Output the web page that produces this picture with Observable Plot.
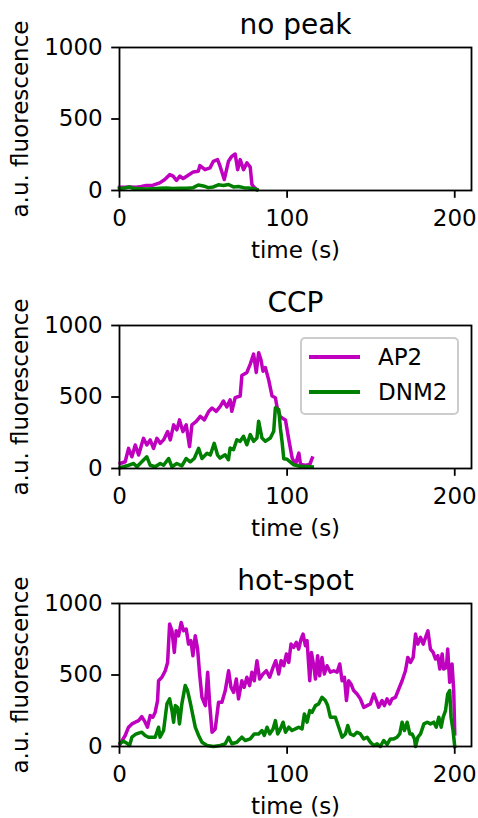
<!DOCTYPE html>
<html>
<head>
<meta charset="utf-8">
<script src="https://cdn.jsdelivr.net/npm/d3@7"></script>
<script src="https://cdn.jsdelivr.net/npm/@observablehq/plot@0.6"></script>
<style>
  html, body { margin: 0; padding: 0; background: white; }
  #wrap { position: relative; width: 478px; height: 818px; font-family: "DejaVu Sans", sans-serif; }
  #wrap svg { display: block; }
  .legend { position: absolute; left: 300px; top: 337px; width: 155px; height: 74px;
    border: 2px solid #cccccc; border-radius: 5px; background: rgba(255,255,255,0.8); }
  .legend .row { position: absolute; left: 0; height: 30px; display: flex; align-items: center; }
  .legend .sw { width: 51px; height: 3.4px; margin-left: 7px; }
  .legend .lab { margin-left: 18px; font-size: 23px; color: black; }
</style>
</head>
<body>
<div id="wrap"></div>
<script>
// ---- data (time in s, a.u. fluorescence) ----
const panelTitles = ["no peak", "CCP", "hot-spot"];
const seriesNames = ["AP2", "DNM2"];
const seriesColors = ["#bf00bf", "#008000"];
const xTicks = [0, 100, 200];
const yTicks = [0, 500, 1000];

const noPeakAP2T = [0, 3, 6, 10, 13, 16, 20, 24, 27, 30, 32, 34, 36, 38, 41, 44, 47, 48, 51, 54, 56, 58.5, 60, 62.5, 65, 67, 69, 70.5, 72, 74, 76, 78, 79, 80.5, 82];
const noPeakAP2V = [23, 22, 25, 23, 28, 35, 37, 53, 77, 111, 100, 70, 100, 84, 107, 130, 135, 174, 146, 158, 204, 216, 170, 77, 204, 239, 255, 146, 216, 146, 193, 163, 42, 20, 7];
const noPeakDNM2T = [0, 3, 6, 8, 12, 16, 20, 24, 28, 32, 36, 40, 44, 47, 50, 53, 56, 59, 62, 65, 68, 71, 74, 77, 80, 82];
const noPeakDNM2V = [15, 18, 25, 15, 12, 10, 12, 15, 18, 14, 16, 15, 20, 38, 32, 20, 25, 40, 35, 42, 25, 28, 20, 18, 12, 5];

const ccpAP2T = [0.4, 3.4, 5.4, 7.4, 9.4, 11.4, 14.3, 16.3, 18.3, 20.3, 22.3, 24.3, 26.3, 28.7, 30.3, 32.3, 34.2, 35.8, 37.8, 39.8, 41.8, 43.2, 45.8, 48.2, 50.6, 53.2, 55.2, 57.7, 60.1, 62, 64, 66, 67, 69, 72, 73, 76, 78, 80, 81.6, 83, 84.4, 85.6, 87, 89, 91, 93, 94, 96, 97, 99, 101, 103, 105, 107, 108, 111, 113.5, 115];
const ccpAP2V = [35, 47, 141, 82, 164, 94, 211, 164, 200, 141, 211, 176, 200, 258, 200, 305, 270, 340, 258, 305, 153, 305, 329, 364, 340, 399, 423, 399, 434, 472, 430, 481, 400, 495, 507, 650, 672, 730, 800, 672, 810, 760, 680, 706, 620, 507, 495, 430, 360, 354, 340, 202, 73, 28, 108, 28, 23, 28, 73];
const ccpDNM2T = [0.4, 4.4, 8.4, 10.4, 13.3, 16.3, 18.3, 21.3, 24.3, 26.3, 29.3, 31.3, 34.2, 37.2, 39.8, 42.2, 44.6, 47.2, 49.2, 52.2, 54.2, 56.5, 58.5, 60, 63, 65, 66, 68, 70, 72, 74, 76, 78, 80, 82, 83, 85, 87, 90, 92, 93, 95, 96, 97, 98, 100, 104, 108, 112, 115];
const ccpDNM2V = [5, 19, 35, 12, 47, 82, 23, 12, 35, 23, 70, 12, 35, 19, 70, 47, 70, 141, 70, 106, 94, 176, 94, 73, 96, 61, 143, 131, 201, 190, 225, 166, 237, 190, 213, 331, 213, 190, 213, 260, 425, 413, 280, 185, 68, 64, 26, 14, 14, 12];

const hotAP2T = [0.4, 3.4, 5.4, 7.4, 9.4, 11.4, 13.3, 15.3, 16.7, 18.3, 19.9, 21.3, 22.7, 23.3, 25.3, 27.3, 28.7, 29.9, 31.3, 32.7, 33.8, 35.2, 36.8, 38.2, 39.8, 41.2, 42.6, 43.8, 45.2, 46.6, 47.8, 49.2, 51.2, 52.6, 53.8, 55.2, 57.1, 59.1, 61.1, 63.1, 65.1, 66.5, 68.1, 69.7, 71, 73, 74.4, 76, 77.6, 79, 80.4, 82, 83.6, 85.6, 87.6, 89.6, 91.6, 93.2, 95, 96.4, 98, 99.6, 101, 102.3, 103.9, 105.5, 106.9, 108.3, 109.5, 110.9, 111.9, 113.5, 114.5, 115.9, 116.9, 118.2, 119.4, 120.8, 122.2, 123.8, 125.8, 127.8, 129.8, 131.4, 132.8, 134.2, 135.4, 136.7, 138.1, 139.7, 141.7, 143.7, 145.7, 147.7, 149.7, 151.7, 153.3, 154.6, 156.6, 158, 159.6, 161.2, 162.6, 164.6, 166.6, 168.6, 170.6, 172, 173.6, 175.2, 176.6, 178, 179.6, 181.2, 182.6, 184, 185.5, 187.1, 188.5, 189.9, 191.1, 192.5, 193.4, 195, 195.8, 197, 198.4, 199.4, 200];
const hotAP2V = [19, 77, 135, 158, 170, 181, 209, 170, 135, 216, 205, 240, 321, 460, 484, 530, 588, 856, 809, 658, 809, 774, 867, 809, 821, 716, 740, 635, 774, 681, 507, 344, 286, 519, 298, 100, 123, 309, 309, 391, 530, 414, 379, 472, 333, 460, 414, 484, 426, 519, 460, 600, 472, 507, 530, 484, 553, 600, 507, 600, 565, 647, 588, 716, 693, 728, 681, 751, 786, 705, 740, 460, 658, 565, 472, 635, 495, 623, 507, 565, 519, 530, 519, 577, 460, 484, 321, 460, 437, 391, 367, 333, 274, 286, 298, 367, 321, 274, 321, 286, 333, 298, 333, 344, 402, 460, 530, 623, 588, 623, 786, 716, 763, 716, 763, 809, 681, 658, 612, 635, 542, 647, 542, 553, 681, 449, 577, 391, 88];
const hotDNM2T = [0.4, 2.4, 4.4, 6, 7.4, 9.4, 11.4, 13.3, 15.3, 17.3, 19.3, 21.3, 23.3, 24.2, 26.3, 28.3, 29.9, 31.3, 32.3, 33.3, 34.6, 35.8, 37.2, 39.2, 40.6, 42.2, 43.8, 45.2, 47.2, 49.2, 52.2, 56.1, 60.1, 63.1, 65.1, 67, 70, 73, 75, 78, 80.4, 83, 85, 86.4, 88, 89.6, 91.6, 93, 94.4, 96, 97.6, 99, 101, 102.9, 104.9, 106.9, 108.9, 110.3, 111.9, 113.5, 114.9, 116.9, 118.8, 120.8, 122.8, 124.2, 125.8, 127.4, 128.8, 130.8, 132.8, 134.8, 136.2, 137.7, 139.7, 141.7, 143.7, 145.7, 147.7, 149.7, 151.7, 153.7, 155.6, 157.6, 159.6, 161.6, 163.6, 165.6, 167.2, 168.6, 170, 171.6, 173.2, 174.6, 176, 176.6, 178, 179.6, 181.6, 183.6, 185.5, 187.5, 189, 190.5, 191.9, 193.1, 194.5, 195.8, 197, 197.8, 199, 200];
const hotDNM2V = [23, 37, 23, 7, 65, 84, 93, 100, 77, 65, 65, 65, 135, 65, 112, 298, 333, 251, 170, 286, 274, 158, 298, 426, 391, 309, 216, 135, 77, 30, 7, 0, 7, 19, 65, 19, 30, 65, 42, 53, 88, 88, 112, 77, 135, 88, 123, 181, 88, 123, 170, 100, 135, 112, 123, 135, 123, 228, 170, 251, 240, 286, 298, 344, 321, 286, 205, 205, 205, 135, 65, 88, 147, 88, 77, 100, 88, 53, 65, 30, 7, 19, 0, 42, 14, 53, 53, 65, 88, 170, 112, 170, 88, 88, 53, 0, 65, 88, 158, 170, 158, 170, 135, 205, 135, 205, 251, 367, 391, 205, 112, 0];

// ---- build ----
const zipSeries = (T, V) => T.map((t, i) => ({t, v: V[i]}));
const panels = [
  {title: panelTitles[0], series: [zipSeries(noPeakAP2T, noPeakAP2V), zipSeries(noPeakDNM2T, noPeakDNM2V)], height: 278},
  {title: panelTitles[1], series: [zipSeries(ccpAP2T, ccpAP2V), zipSeries(ccpDNM2T, ccpDNM2V)], height: 278},
  {title: panelTitles[2], series: [zipSeries(hotAP2T, hotAP2V), zipSeries(hotDNM2T, hotDNM2V)], height: 262}
];

const wrap = document.getElementById("wrap");
const FS = 23;
for (const p of panels) {
  const chart = Plot.plot({
    width: 478,
    height: p.height,
    marginLeft: 119,
    marginRight: 7,
    marginTop: 47,
    marginBottom: p.height - 47 - 143,
    x: {domain: [0, 210]},
    y: {domain: [0, 1000]},
    style: {fontFamily: "DejaVu Sans, sans-serif", fontSize: FS + "px", color: "black", background: "white", overflow: "visible"},
    marks: [
      ...p.series.map((s, i) => Plot.line(s, {x: "t", y: "v", stroke: seriesColors[i], strokeWidth: 3.5, strokeLinejoin: "round", strokeLinecap: "square"})),
      Plot.frame({stroke: "black", strokeWidth: 1.8}),
      Plot.axisX({ticks: xTicks, tickSize: 7.8, tickPadding: 11, strokeWidth: 1.8, fontSize: FS, label: null, tickFormat: d => String(d)}),
      Plot.axisY({ticks: yTicks, tickSize: 7.8, tickPadding: 9, strokeWidth: 1.8, fontSize: FS, label: null, tickFormat: d => String(d)}),
      Plot.text([p.title], {frameAnchor: "top", dy: -14, lineAnchor: "bottom", fontSize: 28, fill: "black"}),
      Plot.text(["time (s)"], {frameAnchor: "bottom", dy: 67, lineAnchor: "bottom", fontSize: FS, fill: "black"}),
      Plot.text(["a.u. fluorescence"], {frameAnchor: "left", rotate: -90, dx: -99, textAnchor: "middle", lineAnchor: "middle", fontSize: FS, fill: "black"})
    ]
  });
  wrap.appendChild(chart);
}

// legend (panel 2)
const leg = document.createElement("div");
leg.className = "legend";
seriesNames.forEach((name, i) => {
  const row = document.createElement("div");
  row.className = "row";
  row.style.top = (i === 0 ? 3 : 38) + "px";
  const sw = document.createElement("div");
  sw.className = "sw";
  sw.style.background = seriesColors[i];
  const lab = document.createElement("span");
  lab.className = "lab";
  lab.textContent = name;
  row.appendChild(sw);
  row.appendChild(lab);
  leg.appendChild(row);
});
wrap.appendChild(leg);
</script>
</body>
</html>
